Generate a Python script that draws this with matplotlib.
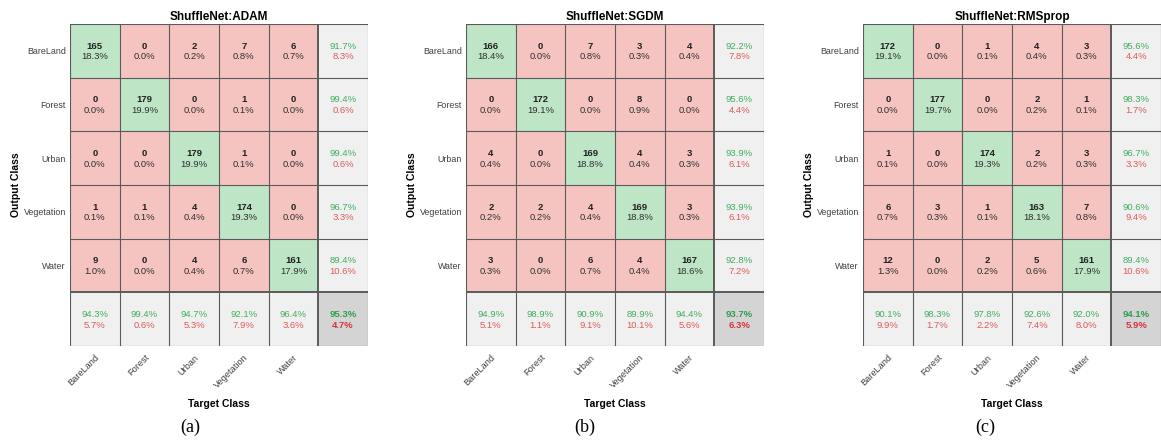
import matplotlib
matplotlib.use("Agg")

import numpy as np
import matplotlib.pyplot as plt

plt.rcParams["font.family"] = ["Liberation Sans", "DejaVu Sans"]

CLASSES = ["BareLand", "Forest", "Urban", "Vegetation", "Water"]
TITLES = ["ShuffleNet:ADAM", "ShuffleNet:SGDM", "ShuffleNet:RMSprop"]
TAGS = ["(a)", "(b)", "(c)"]

# rows = output class, cols = target class
adam = [[165, 0, 2, 7, 6],
        [0, 179, 0, 1, 0],
        [0, 0, 179, 1, 0],
        [1, 1, 4, 174, 0],
        [9, 0, 4, 6, 161]]
sgdm = [[166, 0, 7, 3, 4],
        [0, 172, 0, 8, 0],
        [4, 0, 169, 4, 3],
        [2, 2, 4, 169, 3],
        [3, 0, 6, 4, 167]]
rmsprop = [[172, 0, 1, 4, 3],
           [0, 177, 0, 2, 1],
           [1, 0, 174, 2, 3],
           [6, 3, 1, 163, 7],
           [12, 0, 2, 5, 161]]

GREEN_BG = "#bde5c6"
RED_BG = "#f5c4c1"
GRAY_BG = "#f0f0f0"
DARK_BG = "#d4d4d4"
GREEN_TX = "#3fae5e"
RED_TX = "#dc5a5a"
LINE = "#5a5a5a"


def draw_confusion(ax, cm, title):
    cm = np.array(cm, dtype=float)
    n = cm.shape[0]
    total = cm.sum()
    colors = np.empty((n + 1, n + 1), dtype=object)
    for i in range(n + 1):
        for j in range(n + 1):
            if i == n and j == n:
                colors[i, j] = DARK_BG
            elif i == n or j == n:
                colors[i, j] = GRAY_BG
            elif i == j:
                colors[i, j] = GREEN_BG
            else:
                colors[i, j] = RED_BG
    rgb = np.array([[matplotlib.colors.to_rgb(c) for c in row] for row in colors])
    ax.imshow(rgb, extent=(0, n + 1, n + 1, 0), aspect="auto", interpolation="nearest")

    for k in range(n + 2):
        lw = 1.4 if k == n else 0.8
        ax.axhline(k, color=LINE, lw=lw)
        ax.axvline(k, color=LINE, lw=lw)

    up, dn = -0.09, 0.11
    fs = 6.8
    for i in range(n):
        for j in range(n):
            ax.text(j + 0.5, i + 0.5 + up, f"{int(cm[i, j])}", ha="center", va="center",
                    fontsize=fs, fontweight="bold", color="#202020")
            ax.text(j + 0.5, i + 0.5 + dn, f"{100 * cm[i, j] / total:.1f}%", ha="center",
                    va="center", fontsize=fs, color="#303030")
    for i in range(n):
        p = 100 * cm[i, i] / cm[i, :].sum()
        ax.text(n + 0.5, i + 0.5 + up, f"{p:.1f}%", ha="center", va="center",
                fontsize=fs, color=GREEN_TX)
        ax.text(n + 0.5, i + 0.5 + dn, f"{100 - p:.1f}%", ha="center", va="center",
                fontsize=fs, color=RED_TX)
    for j in range(n):
        p = 100 * cm[j, j] / cm[:, j].sum()
        ax.text(j + 0.5, n + 0.5 + up, f"{p:.1f}%", ha="center", va="center",
                fontsize=fs, color=GREEN_TX)
        ax.text(j + 0.5, n + 0.5 + dn, f"{100 - p:.1f}%", ha="center", va="center",
                fontsize=fs, color=RED_TX)
    acc = 100 * np.trace(cm) / total
    ax.text(n + 0.5, n + 0.5 + up, f"{acc:.1f}%", ha="center", va="center",
            fontsize=fs, fontweight="bold", color="#2e9e4e")
    ax.text(n + 0.5, n + 0.5 + dn, f"{100 - acc:.1f}%", ha="center", va="center",
            fontsize=fs, fontweight="bold", color="#d8333a")

    ax.set_xlim(0, n + 1)
    ax.set_ylim(n + 1, 0)
    ax.set_xticks(np.arange(n) + 0.5)
    ax.set_xticklabels(CLASSES, rotation=45, ha="right", rotation_mode="anchor",
                       fontsize=6.6, color="#404040")
    ax.set_yticks(np.arange(n) + 0.5)
    ax.set_yticklabels(CLASSES, fontsize=6.4, color="#404040")
    ax.tick_params(length=0, pad=3)
    ax.tick_params(axis="x", pad=5)
    for s in ax.spines.values():
        s.set_visible(False)
    ax.set_title(title, fontsize=8.5, fontweight="bold", pad=3)
    ax.set_xlabel("Target Class", fontsize=7.5, fontweight="bold", labelpad=6)
    ax.set_ylabel("Output Class", fontsize=7.5, fontweight="bold", labelpad=2)


W, H = 1161, 443
fig = plt.figure(figsize=(W / 100, H / 100), dpi=100)
lefts = [70, 466, 863]
tag_x = [190, 585, 985]
for mat, title, tag, left, tx in zip([adam, sgdm, rmsprop], TITLES, TAGS, lefts, tag_x):
    ax = fig.add_axes([left / W, (H - 346) / H, 298 / W, 322 / H])
    draw_confusion(ax, mat, title)
    fig.text(tx / W, 1 - 427 / H, tag, ha="center", va="center", fontsize=13,
             family=["Liberation Serif", "DejaVu Serif"])

fig.savefig("out.png", dpi=100)
